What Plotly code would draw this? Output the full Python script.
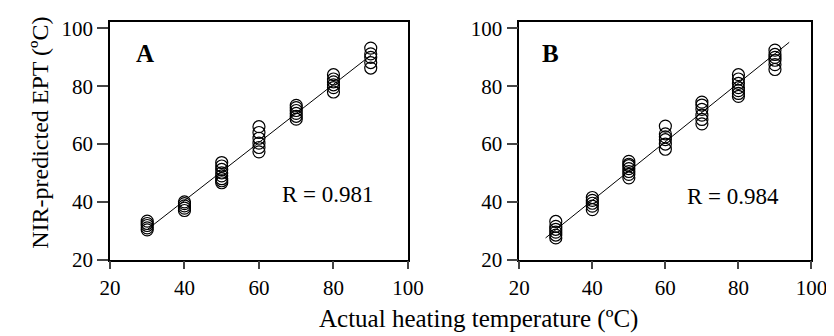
import plotly.graph_objects as go

# ---- data ----
temps = [30, 40, 50, 60, 70, 80, 90]

a_pred = {
    30: [30.3, 31.0, 31.8, 32.5, 33.3],
    40: [37.0, 37.8, 38.6, 39.4, 40.0],
    50: [46.6, 47.3, 48.0, 49.0, 50.0, 51.2, 52.4, 53.6],
    60: [57.3, 58.8, 60.3, 62.0, 64.0, 66.0],
    70: [68.6, 69.6, 70.6, 71.6, 72.6, 73.4],
    80: [78.0, 79.5, 80.5, 81.5, 82.5, 84.0],
    90: [86.3, 88.2, 90.0, 91.2, 93.2],
}
b_pred = {
    30: [27.5, 28.5, 29.5, 30.5, 31.5, 33.2],
    40: [37.3, 38.5, 39.5, 40.5, 41.5],
    50: [48.3, 49.5, 50.5, 51.5, 52.5, 53.0, 54.0],
    60: [58.2, 60.0, 61.5, 62.5, 63.5, 66.2],
    70: [67.0, 68.5, 70.0, 72.0, 73.5, 74.5],
    80: [76.5, 77.5, 78.5, 79.5, 81.0, 82.5, 84.0],
    90: [85.8, 87.5, 89.0, 90.0, 91.0, 92.5],
}
a_line_x = [30, 90]
a_line_y = [30.4, 90.7]
b_line_x = [27.2, 93.9]
b_line_y = [27.5, 95.2]

panel_labels = ["A", "B"]
r_labels = ["R = 0.981", "R = 0.984"]
x_ticks = [20, 40, 60, 80, 100]
y_ticks = [20, 40, 60, 80, 100]

FONT = "Liberation Serif"


def flatten(d):
    xs, ys = [], []
    for t in temps:
        for v in d[t]:
            xs.append(t)
            ys.append(v)
    return xs, ys


fig = go.Figure()
for i, (pred, lx, ly) in enumerate([(a_pred, a_line_x, a_line_y), (b_pred, b_line_x, b_line_y)]):
    xs, ys = flatten(pred)
    suffix = "" if i == 0 else "2"
    fig.add_trace(go.Scatter(x=lx, y=ly, mode="lines", line=dict(color="black", width=1),
                             xaxis="x" + suffix, yaxis="y" + suffix, showlegend=False))
    fig.add_trace(go.Scatter(x=xs, y=ys, mode="markers",
                             marker=dict(symbol="circle-open", size=12, color="black",
                                         line=dict(width=1.2, color="black")),
                             xaxis="x" + suffix, yaxis="y" + suffix, showlegend=False))

H = 336.0
ydom = [1 - 260 / H, 1 - 10 / H]
common_x = dict(range=[20, 100], tickvals=x_ticks, ticks="outside", ticklen=8, tickwidth=1.5,
                showline=True, linecolor="black", linewidth=1.5, mirror=True, showgrid=False,
                zeroline=False, tickfont=dict(family=FONT, size=21, color="black"))
common_y = dict(range=[20, 102.4], tickvals=y_ticks, ticks="outside", ticklen=11, tickwidth=1.5,
                showline=True, linecolor="black", linewidth=1.5, mirror=True, showgrid=False,
                zeroline=False, tickfont=dict(family=FONT, size=21, color="black"),
                domain=ydom)

fig.update_layout(
    width=834, height=336, autosize=False,
    margin=dict(l=0, r=0, t=0, b=0),
    paper_bgcolor="white", plot_bgcolor="white",
    xaxis=dict(common_x, domain=[94 / 834, 402 / 834], anchor="y"),
    yaxis=dict(common_y, anchor="x"),
    xaxis2=dict(common_x, domain=[517 / 834, 819 / 834], anchor="y2"),
    yaxis2=dict(common_y, anchor="x2"),
)

ann = []
for i, suffix in enumerate(["", "2"]):
    ann.append(dict(x=29.4 if i == 0 else 28.5, y=91.3, xref="x" + suffix, yref="y" + suffix,
                    text="<b>%s</b>" % panel_labels[i], showarrow=False,
                    xanchor="center", yanchor="middle",
                    font=dict(family=FONT, size=25, color="black")))
    ann.append(dict(x=78.4, y=42.6 if i == 0 else 41.9, xref="x" + suffix, yref="y" + suffix,
                    text=r_labels[i], showarrow=False, xanchor="center", yanchor="middle",
                    font=dict(family=FONT, size=23, color="black")))
ann.append(dict(x=475 / 834, y=1 - 322 / H, xref="paper", yref="paper",
                text="Actual heating temperature (ºC)", showarrow=False,
                xanchor="center", yanchor="middle",
                font=dict(family=FONT, size=25, color="black")))
ann.append(dict(x=22 / 834, y=1 - 126.5 / H, xref="paper", yref="paper",
                text="NIR-predicted EPT (ºC)", showarrow=False, textangle=-90,
                xanchor="center", yanchor="middle",
                font=dict(family=FONT, size=24, color="black")))
fig.update_layout(annotations=ann)

fig.write_html("out.html")
